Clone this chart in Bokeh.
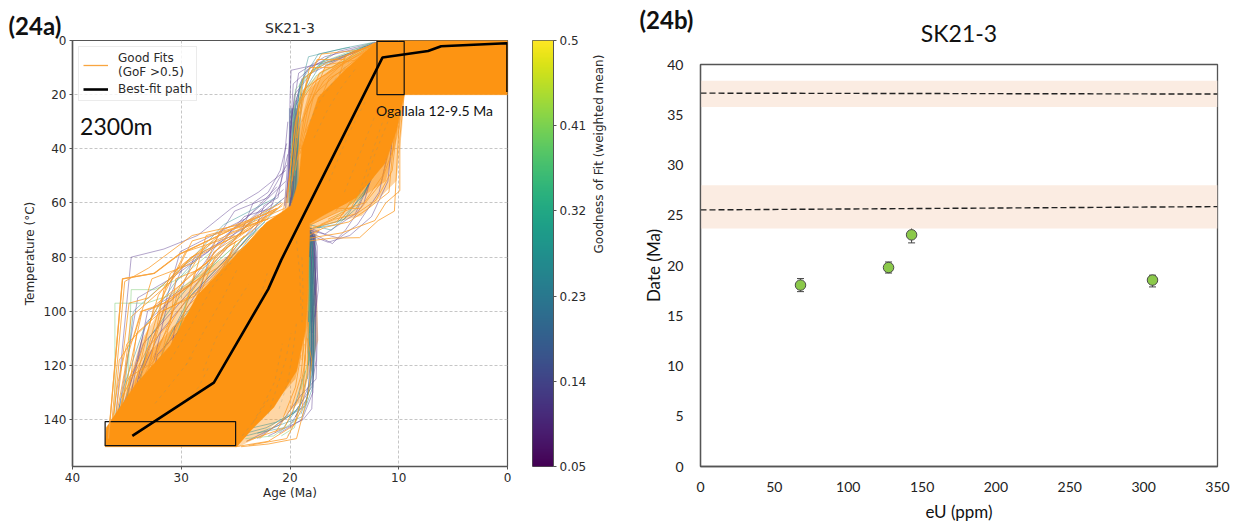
from bokeh.plotting import figure
from bokeh.layouts import row
from bokeh.embed import file_html
from bokeh.resources import INLINE
from bokeh.models import (ColumnDataSource, FixedTicker, Label, Legend, LegendItem, LinearColorMapper,
                          Range1d, TeeHead, Title, Whisker)
from bokeh.palettes import Viridis256
import numpy as np
import math

# ---------- panel a: thermal history envelope (age Ma, temperature C)
solid_age = [11.9, 0, 0, 9.5, 9.9, 10.2, 11.3, 13.9, 17, 18.2, 18.2, 18.4, 18.6, 19.4, 21.5, 23.6, 24.9, 37, 36.9, 34.2, 31, 28.5, 25, 22.2, 19.9, 19.2, 18.9, 17.4, 15]
solid_temp = [0, 0, 20, 20, 27, 33, 45.5, 58, 64.7, 67.7, 72, 96, 107, 122, 135.5, 144, 150, 150, 143, 127, 112.6, 94, 79.5, 67.3, 61, 51.8, 39.6, 21, 11.2]
haze_age = [36.2, 35, 33.7, 31.4, 28.1, 24.5, 20.8, 20, 19.7, 18.9, 16.2, 11.9, 9.5, 9.7, 10.2, 13.4, 17.1, 17.8, 17.5, 17.4, 18.9, 22.6, 24.7]
haze_temp = [140.3, 127.4, 110.8, 96, 85, 76.9, 64.7, 48, 29.7, 18.6, 7.6, 1, 20, 33, 51.8, 64.7, 68.4, 73.9, 96, 110.8, 132.9, 145.8, 150]
haze2_age = [36.4, 35.1, 33.2, 30, 26.2, 22.2, 20, 19.4, 18.2, 15.8, 11.9, 9.5, 9.9, 11.2, 15, 18, 18, 18.1, 19.5, 23, 25]
haze2_temp = [146, 132, 116, 103, 90, 74, 60, 36, 18, 9, 1, 20, 32, 52, 62, 68, 74, 100, 125, 141, 149]
column_low_age = [18.3, 17.6, 17.6, 17.9, 18.4]
column_low_temp = [70, 72, 112, 125, 115]
column_top_age = [20.1, 19.2, 19.2, 20.1]
column_top_temp = [62, 60, 25, 25]

best_age = [34.5, 27, 22, 20.8, 11.5, 7.3, 6.1, 0.1, 0, 0]
best_temp = [146, 126.3, 91.8, 81, 6.3, 3.9, 2.1, 1, 1, 19]

box_left = [12, 37]
box_right = [9.5, 25]
box_top = [0.3, 140.7]
box_bottom = [20, 149.6]

paths_purple = [
    [(36.2,146),(34.6,80),(31.6,77),(28.5,72),(25.4,62),(22.9,56),(20.4,48)],
    [(35.9,140),(34.0,95),(31,88),(27.5,78),(25.1,63),(22,58),(20.3,46)],
    [(35.2,135),(33.2,104),(31.5,98),(29.2,90),(26.5,74),(23,62),(20.4,52)],
    [(34.7,132),(33.1,100),(30,92),(28.8,80),(24.5,70),(21.5,60)],
    [(33.9,125),(32,108),(29.5,96),(26.2,82),(22.8,66),(20.5,58)],
    [(36,143),(33.5,112),(30.8,100),(27.8,86),(23.5,66),(20.6,55)],
    [(32.5,118),(31.2,96),(29.9,84),(26.8,76),(23.6,64),(21.2,54)],
    [(31.4,128),(30.6,106),(28.4,92),(25.4,80),(21.9,63)],
    [(33.2,136),(32.2,116),(29,102),(27.4,80),(22.6,62)],
    [(34.9,141),(33.8,122),(31.9,103),(30.1,78),(24.2,66)],
    [(24.6,72),(23.4,60),(22,56),(20.9,48),(20.3,38)],
    [(25.8,72),(24.2,65),(21.8,62),(20.8,52),(20.2,42)],
    [(23.2,70),(22.4,61),(21.1,58),(20.6,47),(20.2,30)],
    [(20.4,62),(20.1,46),(20,22),(19.9,11),(16,7.5),(12,1)],
    [(20.3,58),(20,36),(19.7,16),(17.8,9),(14,4),(12,0.5)],
    [(20.2,60),(19.9,30),(19.2,12),(16.8,6),(12.5,1.5)],
    [(20.5,61),(20.2,44),(19.6,20),(18,12),(15,6),(12,1)],
    [(20.1,52),(19.8,26),(18.5,11),(15.5,4),(11.9,.5)],
    [(20.0,62),(19.8,50),(19.7,38),(19.6,25),(18.9,14)],
    [(19.9,60),(19.7,46),(19.6,34),(19.4,22)],
    [(19.8,59),(19.6,44),(19.5,32),(19.2,20)],
    [(20.1,63),(19.9,54),(19.8,42),(19.7,30)],
    [(20,61),(19.7,55),(19.6,48),(19.5,40)],
    [(19.7,62),(19.5,52),(19.4,42),(19.3,28)],
    [(18.1,72),(17.6,88),(17.5,110),(17.6,125),(19,131),(21,142),(24,148)],
    [(18,74),(17.7,95),(17.6,118),(18,128),(19.5,137),(23,147)],
    [(18.2,70),(17.9,90),(17.8,120),(18,136),(18.8,140),(22,146)],
    [(18.1,76),(17.9,105),(17.9,130),(18.9,140),(21,145)],
    [(18.2,72),(18,84),(18,100),(18.1,126),(19.5,139)],
    [(18.3,71),(18.1,92),(18,112),(18.4,132),(20,142)],
    [(18,70),(17.6,78),(17.4,92),(17.7,102)],
    [(17.9,70),(17.5,76),(17.5,88),(17.8,98)],
    [(18.1,71),(17.7,80),(17.6,96),(17.9,108)],
    [(18,71),(17.8,76),(17.7,86),(17.7,94)],
    [(18.2,70),(17.8,73),(17.8,82),(17.9,90)],
    [(17.8,72),(17.6,84),(17.8,94),(18,104)],
    [(18.1,72),(16.5,74.5),(14.5,72),(12.5,65),(11,52),(10.4,28),(10,20)],
    [(18.2,70),(15.5,73),(13.8,68),(11.8,56),(10.8,38),(10.2,22)],
    [(18.3,69),(16.8,71.5),(14,64),(12.6,52),(11.2,34),(10.1,18)],
    [(18,71),(16.1,75),(14.9,70),(13.2,60),(12.1,44)],
]
paths_teal = [
    [(35.6,142),(34.4,100),(32.2,92),(29.4,82),(26.1,68),(21.3,58)],
    [(34.4,138),(33,110),(30.4,96),(27.9,84),(24.1,69),(20.8,59)],
    [(33.1,130),(31.4,112),(29.1,94),(25.7,80),(22.3,67)],
    [(31.5,120),(29.8,102),(27.3,90),(24.2,74),(21.1,62)],
    [(32.3,134),(30.9,118),(28.1,100),(25.9,84),(23.1,70)],
    [(36.3,147),(35.3,128),(33.4,106),(30.7,90),(27.1,74)],
    [(20,60),(19.8,44),(19.7,28),(18.3,6),(15.2,3),(12.2,0.6)],
    [(20,56),(19.6,36),(19.1,16),(17.4,5),(14.5,2.5)],
    [(19.8,62),(19.6,48),(19.4,30),(18.7,14),(16.5,6)],
    [(19.7,58),(19.5,42),(19.3,26),(18,11),(13,2)],
    [(19.9,57),(19.7,40),(19.5,24),(17.2,9),(12.4,1)],
    [(19.6,60),(19.4,50),(19.3,38),(19.2,26)],
    [(19.5,58),(19.4,48),(19.2,36),(18.9,22)],
    [(18,72),(17.8,85),(17.8,100),(17.9,122),(18.6,135),(21,141)],
    [(17.9,74),(17.9,92),(17.8,115),(17.9,128),(18.9,139),(23,145)],
    [(18.1,70),(17.9,82),(18,104),(18.1,128),(19,138)],
    [(18.2,74),(18,96),(18,118),(18.5,134)],
    [(18.1,78),(18,90),(18.2,112),(18.4,125)],
    [(18.3,75),(18.2,88),(18.2,104),(18.3,120)],
    [(18.2,72),(18.1,80),(18.1,92),(18.2,100)],
    [(18.1,74),(18.2,84),(18.1,98),(18.2,108)],
    [(18.3,72),(18.2,78),(18.3,92),(18.3,104)],
    [(18.2,68),(16.2,70),(13.9,62),(11.4,42),(10.3,24)],
    [(17.5,69),(15,66),(12.9,54),(10.9,32),(9.9,19)],
    [(19,70),(15.8,68),(13.2,57),(11.9,44),(10.6,26)],
    [(27,146),(24.5,144),(21.3,141),(19.2,136),(18.5,125)],
    [(29,148),(25,146),(22.2,143),(19.8,138),(18.6,122)],
    [(26,148),(23.1,145),(20.6,143),(19,134)],
]
paths_green = [
    [(36.1,145),(36.1,97),(33.2,97),(31,94),(27.6,85),(24,72)],
    [(35,139),(34.6,92),(32.5,92),(30.2,88),(27.2,78)],
    [(30.5,112),(29.4,94),(26.8,82),(23.4,70)],
    [(20.1,60),(19.9,42),(19.5,18),(17,8),(12.6,1)],
    [(19.6,50),(19.4,30),(18.9,15),(16.2,5)],
    [(18.2,80),(18.2,96),(18.3,118),(19,129)],
    [(18.4,72),(18.3,86),(18.3,100)],
    [(18.4,76),(18.3,82),(18.4,94)],
    [(20.8,146),(19.6,143),(18.9,132)],
    [(24.1,147),(21.5,146),(19.4,140)],
    [(16,66),(13.8,58),(11.3,38),(10,20)],
    [(18.7,20),(17.6,13),(15.3,8),(12.5,2)],
]
paths_orange = [
    [(36.7,147),(35.4,88),(32.5,86),(30.2,79),(26,71),(21.2,62)],
    [(36.5,146),(35.2,89),(33,84),(29,72),(24.6,68),(20.8,60)],
    [(36.2,145),(34.8,97),(33,95),(30.5,86),(29,74),(22,66)],
    [(35.8,140),(33.6,100),(32,98),(29,90),(27.7,72),(24,68),(20.5,62)],
    [(35.5,132),(33,113),(31,104),(30.5,88),(28,84),(25.5,71),(20.8,64)],
    [(35,135),(34.1,108),(31.8,100),(28.6,94),(27,78),(22.4,66)],
    [(34.3,128),(32.5,98),(30,90),(27.7,82),(26.4,70),(21.4,63)],
    [(33.6,122),(32.4,104),(31,86),(28.2,79),(24.9,72),(20.7,61)],
    [(32.8,118),(31.6,92),(29.6,82),(26.9,74),(23.5,68)],
    [(31.8,116),(30.4,94),(28.4,88),(25.9,76),(22.1,65)],
    [(30.2,108),(28.8,86),(26.5,78),(24,72),(20.6,60)],
    [(29.2,104),(27.3,90),(25.1,78),(22.6,69)],
    [(36.4,147),(35.7,118),(34.4,110),(32.7,88),(28.8,82)],
    [(35.9,146),(34.9,116),(33.7,100),(30.9,96),(27.8,76)],
    [(36.6,148),(35.8,126),(35,112),(32.9,104),(29.6,78),(25.1,72)],
    [(36.3,146),(35.2,122),(34.6,102),(31.2,90),(29.1,80),(23.8,70)],
    [(36,144),(35,126),(33.9,118),(32.1,94),(30.3,84),(26.5,72)],
    [(35.6,143),(34.7,124),(33,120),(31.7,100),(28.1,92),(26.9,80)],
    [(35.3,141),(34.2,130),(32.6,110),(31,94),(29,86),(24.9,74)],
    [(34.9,140),(33.9,128),(32,112),(30.6,102),(27.9,86),(23.4,66)],
    [(34.5,138),(33.1,124),(31.5,108),(30,92),(26.7,84),(22.9,72)],
    [(34,136),(32.9,120),(31.2,112),(29.4,98),(26.1,86),(25,74)],
    [(33.5,133),(32.3,122),(30.8,106),(28.9,100),(25.6,82),(21.9,68)],
    [(33,131),(31.7,118),(30.1,110),(28.3,92),(27.1,88),(24.2,72)],
    [(32.4,128),(31.1,116),(29.8,106),(27.6,96),(25.2,76)],
    [(31.9,124),(30.7,110),(29.2,104),(27.2,88),(24.7,78)],
    [(31.1,120),(29.9,114),(28.6,100),(26.6,92),(23.9,76)],
    [(30.5,118),(29.3,108),(27.9,96),(26.2,86),(23.3,74)],
    [(29.7,112),(28.2,102),(26.9,92),(25.4,84)],
    [(28.9,108),(27.4,98),(26.4,90),(24.4,80)],
    [(20.3,60),(19.6,34),(18.8,14),(16.6,8),(12,1.2)],
    [(20.2,56),(19.5,30),(18.7,18),(15.9,10),(12,2)],
    [(20,58),(19.2,24),(18.1,12),(17.1,5),(13.5,3.5),(12,1)],
    [(19.8,52),(18.9,22),(17.7,15),(15.2,9),(12.2,1.5)],
    [(19.5,48),(18.6,26),(17.3,12),(14.7,7),(12.1,1)],
    [(19.3,44),(18.3,24),(16.9,15),(14.2,5),(12,0.7)],
    [(19.1,42),(18.1,30),(16.4,14),(13.8,8),(12,1.6)],
    [(19,40),(17.8,20),(15.9,13),(13.3,5),(11.9,0.9)],
    [(19.4,36),(18.5,16),(17.5,7),(15,7),(12.3,1)],
    [(19.2,28),(18.2,10),(16.1,10),(14.4,4.5),(12,1)],
    [(18.9,30),(17.6,18),(16.7,9),(13.6,7),(11.9,2.2)],
    [(18.6,34),(17.2,22),(15.6,15),(14.9,5.6),(12,0.8)],
    [(18.4,38),(17,26),(15.2,18),(13.1,9),(11.9,3)],
    [(18.2,74),(16.2,73),(13.6,72.8),(11.9,66.5),(10.4,63),(10.1,40),(9.8,20)],
    [(18.2,73),(15.2,71),(12.2,66.5),(11.2,60),(9.9,55.5),(9.9,36),(9.5,20)],
    [(18.3,72),(16.8,69),(14.6,67),(12.8,62),(10.9,56),(10.3,30),(9.7,19)],
    [(18.2,70),(15.9,66),(13.9,64),(12.1,59),(10.6,48),(9.9,22)],
    [(18.1,68),(15.4,63),(13.2,60),(11.5,50),(10.4,34),(9.6,20)],
    [(17.5,65),(14.8,60),(12.6,52),(11,42),(9.8,24)],
    [(16.7,63),(14.2,56),(12.1,48),(10.8,36),(9.7,21)],
    [(18.1,66),(16.1,62),(13.5,62),(11.7,53),(10.5,40),(10.1,24)],
    [(17.9,69),(15.7,67),(14.1,58),(12.3,46),(11,30),(9.9,21)],
    [(17.2,68),(15.1,64),(13.7,54),(11.6,46),(10.7,28)],
    [(16.5,66),(14.4,62),(12.9,50),(11.3,40),(10.2,26)],
    [(15.8,63),(13.9,52),(12.4,44),(10.9,34),(9.8,22)],
    [(18.4,110),(18,118),(18.3,130),(19.4,147),(22,149),(24.5,150)],
    [(18.3,104),(18.4,122),(18.9,136),(20.3,147),(23.8,149.5)],
    [(18.6,116),(18.8,130),(19.6,142),(22,148),(25,150)],
    [(18.5,100),(18.6,118),(19.2,132),(20.5,143),(24,148)],
    [(18.4,78),(18.3,92),(18.4,106),(18.7,120)],
    [(18.5,74),(18.4,88),(18.5,100),(18.9,118)],
    [(18.7,112),(19,124),(19.9,136),(21.4,145)],
    [(19,116),(19.5,128),(20.7,140),(22.8,147)],
]
paths_over = [
    [(31,118),(29.2,106),(27,90),(25.4,82)],
    [(29.6,120),(28,108),(26.3,96),(24.8,84)],
    [(28,122),(26.8,110),(25.1,98),(23.8,90)],
    [(32.4,134),(30.4,124),(28.8,116)],
    [(30,134),(28.4,128),(27.4,120)],
    [(21,136),(20.2,126),(19.7,114),(19.4,104)],
    [(22,138),(21.2,128),(20.4,118),(19.9,108)],
    [(23.4,141),(22.4,134),(21.4,126),(20.7,112)],
    [(24.4,146),(23.2,140),(21.9,132)],
    [(20.2,146),(19.4,138),(18.9,124)],
    [(13.6,56),(12.8,46),(12,36),(11.3,28)],
    [(15,56),(14,46),(13,36),(12.2,28)],
    [(14.2,62),(13,52),(12.2,42),(11,30)],
    [(16.4,52),(15.4,42),(14.3,32),(13,22)],
    [(18.2,30),(17.2,22),(15.8,14),(14.6,8)],
    [(17.8,36),(16.6,26),(15.4,18),(13.9,10)],
    [(24,106),(22.8,96),(22.1,86)],
    [(19.4,74),(19.1,86),(19,98)],
    [(18.9,80),(18.8,92),(18.9,104)],
]

# ---------- colour bar
gof_ticks = [0.05, 0.14, 0.23, 0.32, 0.41, 0.5]
gof_labels = ["0.05", "0.14", "0.23", "0.32", "0.41", "0.5"]

# ---------- panel b: dates
eu = [67.7, 127.3, 142.9, 306]
date = [18.05, 19.8, 23.05, 18.55]
date_low = [17.4, 19.25, 22.25, 17.87]
date_high = [18.7, 20.35, 23.95, 19.03]

band_low = [35.77, 23.68]
band_high = [38.39, 27.98]
mean1_eu = [0, 350]
mean1_date = [37.15, 37.06]
mean2_eu = [0, 350]
mean2_date = [25.53, 25.86]

ORANGE = "#fd9412"
AX = "#555555"
TXT = "#2b2b2b"


def split(paths):
    return [[pt[0] for pt in q] for q in paths], [[pt[1] for pt in q] for q in paths]


# ================= panel a
p1 = figure(frame_width=435, frame_height=426, output_backend="svg", toolbar_location=None,
            x_range=Range1d(40, 0), y_range=Range1d(157.3, 0), frame_align=False,
            min_border_left=72, min_border_right=15, min_border_top=40, min_border_bottom=54,
            title="SK21-3", x_axis_label="Age (Ma)", y_axis_label="Temperature (°C)")
p1.title.align = "center"
p1.title.text_font = "DejaVu Sans"
p1.title.text_font_size = "14px"
p1.title.text_font_style = "normal"
p1.title.text_color = TXT
p1.title.standoff = -57
p1.outline_line_color = AX
p1.outline_line_width = 1.2
p1.add_layout(Title(text="(24a)", align="left", offset=-64, standoff=2, text_font="Lato",
                    text_font_size="24px", text_font_style="bold", text_color="#111111"), "above")

for ax in (p1.xaxis[0], p1.yaxis[0]):
    ax.axis_line_color = AX
    ax.axis_line_width = 1.5
    ax.major_tick_line_color = AX
    ax.major_tick_in = 0
    ax.major_tick_out = 3
    ax.minor_tick_line_color = None
    ax.major_label_text_font = "DejaVu Sans"
    ax.major_label_text_font_size = "12px"
    ax.major_label_text_color = TXT
    ax.major_label_standoff = 3
    ax.axis_label_text_font = "DejaVu Sans"
    ax.axis_label_text_font_size = "12px"
    ax.axis_label_text_font_style = "normal"
    ax.axis_label_text_color = TXT
p1.xaxis[0].ticker = FixedTicker(ticks=[40, 30, 20, 10, 0])
p1.yaxis[0].ticker = FixedTicker(ticks=[0, 20, 40, 60, 80, 100, 120, 140])
p1.xaxis[0].axis_label_standoff = 1
p1.yaxis[0].axis_label_standoff = 4
for g in (p1.xgrid[0], p1.ygrid[0]):
    g.grid_line_color = "#c6c6c6"
    g.grid_line_dash = "3 2"
    g.grid_line_width = 1

p1.patch(haze_age, haze_temp, fill_color=ORANGE, fill_alpha=0.38, line_color=None)
p1.patch(haze2_age, haze2_temp, fill_color=ORANGE, fill_alpha=0.5, line_color=None)
p1.patch(column_low_age, column_low_temp, fill_color="#3f7f96", fill_alpha=0.55, line_color=None)
p1.patch(column_top_age, column_top_temp, fill_color="#3f7f96", fill_alpha=0.45, line_color=None)
for paths, color, alpha in ((paths_purple, "#5a3d8e", 0.55), (paths_teal, "#2a8a8c", 0.55),
                            (paths_green, "#7ccb74", 0.6), (paths_orange, "#fb9a24", 0.9)):
    xs, ys = split(paths)
    p1.multi_line(xs, ys, line_color=color, line_alpha=alpha, line_width=0.85)
good = p1.patch(solid_age, solid_temp, fill_color=ORANGE, line_color=ORANGE, line_width=0.5)
xs, ys = split(paths_over)
p1.multi_line(xs, ys, line_color="#7f8f80", line_alpha=0.5, line_width=0.5, line_dash="3 4")
p1.quad(left=box_left, right=box_right, top=box_top, bottom=box_bottom,
        fill_color=None, line_color="#111111", line_width=1.2)
best = p1.line(best_age, best_temp, line_color="black", line_width=2.6)

legend_line = p1.line(*[c[0] for c in split(paths_orange)], line_color="#f9a540", line_width=1.3)
legend = Legend(items=[LegendItem(label="Good Fits\n(GoF >0.5)", renderers=[legend_line]),
                       LegendItem(label="Best-fit path", renderers=[best])],
                location="top_left", margin=6, padding=4, spacing=3,
                label_text_font="DejaVu Sans", label_text_font_size="12px", label_text_color=TXT,
                glyph_width=25, glyph_height=14, label_standoff=10,
                background_fill_alpha=0.8, border_line_color="#d8d8d8", border_line_width=1)
p1.add_layout(legend)

p1.add_layout(Label(x=39.3, y=31.5, text="2300m", text_font="Lato", text_font_size="23px",
                    text_color="#111111", text_baseline="middle"))
p1.add_layout(Label(x=12.1, y=26, text="Ogallala 12-9.5 Ma", text_font="Lato", text_font_size="14px",
                    text_color="#111111", text_baseline="middle"))

# ================= colour bar
cb = figure(frame_width=21, frame_height=426, output_backend="svg", toolbar_location=None,
            x_range=Range1d(0, 1), y_range=Range1d(0.05, 0.5), x_axis_location=None, y_axis_location="right",
            min_border_left=10, min_border_right=78, min_border_top=40, min_border_bottom=54, frame_align=False,
            y_axis_label="Goodness of Fit (weighted mean)")
cb.grid.visible = False
cb.outline_line_color = AX
mapper = LinearColorMapper(palette=Viridis256, low=0.05, high=0.5)
gradient = np.linspace(0.05, 0.5, 256).reshape(256, 1)
cb.image(image=[gradient], x=0, y=0.05, dw=1, dh=0.45, color_mapper=mapper)
a = cb.yaxis[0]
a.ticker = FixedTicker(ticks=gof_ticks)
a.major_label_overrides = dict(zip(gof_ticks, gof_labels))
a.axis_line_color = AX
a.major_tick_line_color = AX
a.major_tick_in = 0
a.major_tick_out = 3
a.minor_tick_line_color = None
a.major_label_text_font = "DejaVu Sans"
a.major_label_text_font_size = "12px"
a.major_label_text_color = TXT
a.major_label_standoff = 3
a.axis_label_text_font = "DejaVu Sans"
a.axis_label_text_font_size = "12px"
a.axis_label_text_font_style = "normal"
a.axis_label_text_color = TXT
a.axis_label_standoff = 10
a.axis_label_orientation = math.pi / 2
a.axis_label_text_align = "center"

# ================= panel b
p2 = figure(frame_width=517, frame_height=402, output_backend="svg", toolbar_location=None,
            x_range=Range1d(0, 350), y_range=Range1d(0, 40), frame_align=False,
            min_border_left=69, min_border_right=15, min_border_top=64, min_border_bottom=54,
            title="(24b)", x_axis_label="eU (ppm)", y_axis_label="Date (Ma)")
p2.title.align = "left"
p2.title.offset = -61
p2.title.text_font = "Lato"
p2.title.text_font_size = "24px"
p2.title.text_font_style = "bold"
p2.title.text_color = "#111111"
p2.title.standoff = -60
p2.add_layout(Title(text="SK21-3", align="center", vertical_align="top", standoff=31, text_font="Lato",
                    text_font_size="23px", text_font_style="normal", text_color="#111111"), "above")
p2.grid.visible = False
p2.outline_line_color = AX
p2.outline_line_width = 1.3
for ax in (p2.xaxis[0], p2.yaxis[0]):
    ax.axis_line_color = AX
    ax.axis_line_width = 1.3
    ax.major_tick_line_color = None
    ax.minor_tick_line_color = None
    ax.major_label_text_font = "Lato"
    ax.major_label_text_font_size = "14px"
    ax.major_label_text_color = "#222222"
    ax.axis_label_text_font = "Lato"
    ax.axis_label_text_font_size = "17px"
    ax.axis_label_text_font_style = "normal"
    ax.axis_label_text_color = "#111111"
p2.xaxis[0].major_label_standoff = 9
p2.xaxis[0].axis_label_standoff = 6
p2.yaxis[0].major_label_standoff = 11
p2.yaxis[0].axis_label_standoff = 0
p2.xaxis[0].ticker = FixedTicker(ticks=[0, 50, 100, 150, 200, 250, 300, 350])
p2.yaxis[0].ticker = FixedTicker(ticks=[0, 5, 10, 15, 20, 25, 30, 35, 40])

p2.hbar(y=[(l + h) / 2 for l, h in zip(band_low, band_high)], left=0, right=350,
        height=[h - l for l, h in zip(band_low, band_high)], fill_color="#fbece2", line_color=None)
p2.line(mean1_eu, mean1_date, line_color="#222222", line_width=1.4, line_dash="6 3")
p2.line(mean2_eu, mean2_date, line_color="#222222", line_width=1.4, line_dash="6 3")
src = ColumnDataSource(dict(eu=eu, date=date, low=date_low, high=date_high))
p2.add_layout(Whisker(source=src, base="eu", upper="high", lower="low", line_color="#444444", line_width=1,
                      upper_head=TeeHead(size=7, line_color="#444444", line_width=1),
                      lower_head=TeeHead(size=7, line_color="#444444", line_width=1)))
p2.scatter("eu", "date", source=src, size=10.5, fill_color="#8bc94a", line_color="#4a4a4a", line_width=1)

layout = row(p1, cb, p2, spacing=0)
open("out.html", "w").write(file_html(layout, INLINE))
